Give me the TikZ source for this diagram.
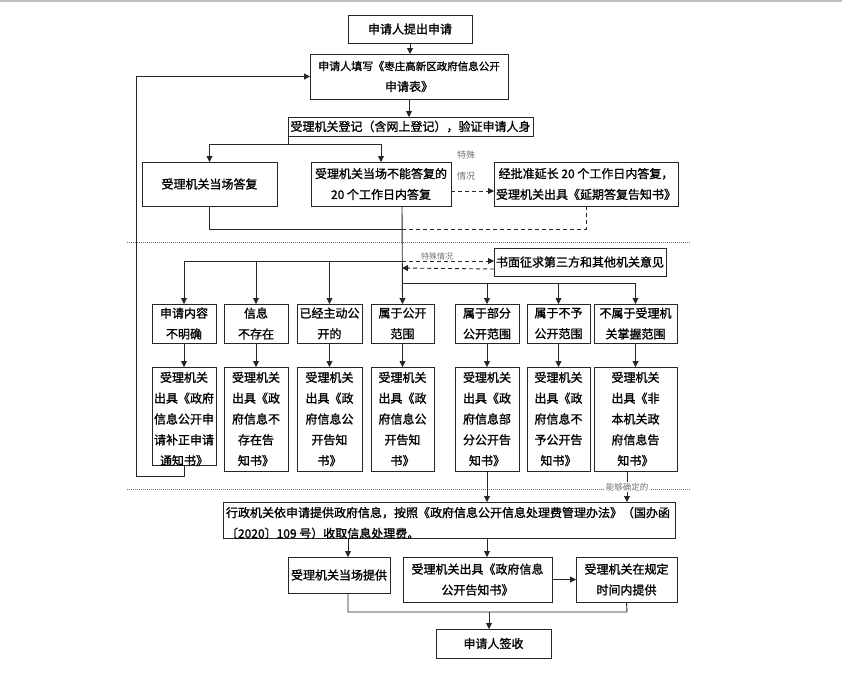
\documentclass[tikz,border=0pt]{standalone}
\usepackage{fontspec}
\newfontfamily\cjk{Noto Sans CJK SC}[AutoFakeBold=1.2]
\usetikzlibrary{arrows.meta}
\tikzset{
 ln/.style={draw=black!85,line width=0.9pt},
 arr/.style={ln,-{Triangle[length=6pt,width=6pt]}},
 dln/.style={ln,dash pattern=on 4pt off 3pt},
 darr/.style={arr,dash pattern=on 4pt off 3pt},
 box/.style={ln,inner sep=0pt,outer sep=0pt,align=center,font=\cjk\bfseries\fontsize{12pt}{20.8pt}\selectfont},
 txt/.style={inner sep=0pt,outer sep=0pt,align=center,font=\cjk\bfseries\fontsize{12pt}{20.8pt}\selectfont},
 note/.style={text=black!55,inner sep=1pt,font=\cjk\fontsize{9pt}{11pt}\selectfont},
 sepline/.style={draw=black!55,line width=0.7pt,dash pattern=on 1pt off 1pt},
}
\newcommand\mkbox[6]{\node[box,minimum width={(#4-#2)*1pt},minimum height={(#5-#3)*1pt}] (#1) at ({(#2+#4)/2},{(#3+#5)/2}) {#6};}
\begin{document}
\begin{tikzpicture}[x=1pt,y=-1pt]
\useasboundingbox (0,0) rectangle (842,689);
\fill[white] (0,0) rectangle (842,689);
\draw[draw=black!25,line width=2pt] (0,1) -- (842,1);
% top part
\mkbox{b1}{348}{15}{472}{43}{申请人提出申请}
\mkbox{b2}{310}{54}{508}{99}{{\fontsize{11pt}{20.8pt}\selectfont 申请人填写《}{\fontsize{10.5pt}{20.8pt}\selectfont 枣庄高新区政府信息公开}\\申请表》}
\mkbox{b3}{288}{117}{533}{136}{受理机关登记（含网上登记），验证申请人身}
\mkbox{b4}{142}{162}{277}{206}{受理机关当场答复}
\mkbox{b5}{311}{162}{451}{206}{受理机关当场不能答复的\\20 个工作日内答复}
\mkbox{b6}{494}{162}{678}{206}{经批准延长 20 个工作日内答复，\\受理机关出具《延期答复告知书》}
\mkbox{b7}{494}{248}{666}{276}{书面征求第三方和其他机关意见}
% categories
\mkbox{c1}{152}{304}{216}{343}{申请内容\\不明确}
\mkbox{c2}{224}{304}{288}{343}{信息\\不存在}
\mkbox{c3}{297}{304}{362}{343}{已经主动公\\开的}
\mkbox{c4}{371}{304}{434}{343}{属于公开\\范围}
\mkbox{c5}{455}{304}{519}{343}{属于部分\\公开范围}
\mkbox{c6}{527}{304}{590}{343}{属于不予\\公开范围}
\mkbox{c7}{594}{304}{677}{343}{不属于受理机\\关掌握范围}
% notices
\mkbox{n1}{152}{367}{216}{465}{}
\node[txt] (tn1) at (184,419) {受理机关\\出具《政府\\信息公开申\\请补正申请\\通知书》};
\mkbox{n2}{224}{367}{288}{471}{受理机关\\出具《政\\府信息不\\存在告\\知书》}
\mkbox{n3}{297}{367}{362}{471}{受理机关\\出具《政\\府信息公\\开告知\\书》}
\mkbox{n4}{371}{367}{434}{471}{受理机关\\出具《政\\府信息公\\开告知\\书》}
\mkbox{n5}{455}{367}{519}{471}{受理机关\\出具《政\\府信息部\\分公开告\\知书》}
\mkbox{n6}{527}{367}{590}{471}{受理机关\\出具《政\\府信息不\\予公开告\\知书》}
\mkbox{n7}{594}{367}{677}{471}{受理机关\\出具《非\\本机关政\\府信息告\\知书》}
% bottom
\mkbox{b8}{223}{502}{675}{538}{}
\node[txt,align=left,anchor=west] (tb8) at (226,523) {行政机关依申请提供政府信息，按照《政府信息公开信息处理费管理办法》（国办函\\〔2020〕109 号）收取信息处理费。};
\mkbox{b9}{288}{557}{390}{593}{受理机关当场提供}
\mkbox{b10}{403}{557}{552}{602}{\fontsize{12pt}{19pt}\selectfont 受理机关出具《政府信息\\公开告知书》}
\mkbox{b11}{576}{557}{677}{602}{\fontsize{12pt}{19pt}\selectfont 受理机关在规定\\时间内提供}
\mkbox{b12}{436}{629}{551}{658}{申请人签收}
% separators
\draw[sepline] (127,242) -- (690,242);
\draw[sepline] (127,489) -- (690,489);
% coordinates
\coordinate (s1) at (288,144);
\coordinate (v0) at (402,206);
\coordinate (j1) at (402,229);
\coordinate (j2) at (402,261);
\coordinate (j3) at (402,283);
\coordinate (L1) at (136,476);
\coordinate (k7) at (627,471);
\coordinate (k9) at (348,593);
\coordinate (k8) at (348,538);
\coordinate (m1) at (348,612);
\coordinate (m2) at (627,612);
\coordinate (m3) at (489,612);
\coordinate (e8) at (487,538);
% connectors top
\draw[arr] (b1.south) -- (b1.south |- b2.north);
\draw[arr] (b2.south) -- (b2.south |- b3.north);
\draw[ln] (b3.south west) -- (s1);
\draw[arr] (s1) -| (b4.north);
\draw[arr] (s1) -| (b5.north);
\draw[darr] ([yshift=-7pt]b5.east) -- ([yshift=-7pt]b6.west);
\node[note] (lab1) at (466,155) {特殊};
\node[note] (lab2) at (466,176) {情况};
\draw[ln] (b4.south) |- (j1);
\draw[dln] (b6.south) |- (j1);
\draw[arr] (v0) -- (c4.north);
\draw[darr] (j2) -- (j2 -| b7.west);
\draw[darr] ([yshift=-7pt]b7.west) -- ([yshift=-7pt]j2);
\node[note,font=\cjk\fontsize{8pt}{10pt}\selectfont] (lab3) at (437,256) {特殊情况};
\draw[arr] (j2) -| (c1.north);
\draw[arr] (j2) -| (c2.north);
\draw[arr] (j2) -| (c3.north);
\draw[arr] (j3) -| (c5.north);
\draw[arr] (j3) -| (c6.north);
\draw[arr] (j3) -| (c7.north);
% categories to notices
\foreach \i in {1,...,7} {\draw[arr] (c\i.south) -- (n\i.north);}
% loop back
\draw[arr] (n1.south) |- (L1) |- (b2.west);
% to b8
\draw[arr] (n5.south) -- (n5.south |- b8.north);
\draw[arr] (k7) -- (k7 |- b8.north);
\node[note,fill=white,inner xsep=2pt,font=\cjk\fontsize{8.5pt}{10pt}\selectfont] (lab4) at (627,487) {能够确定的};
\draw[arr] (k8) -- (k8 |- b9.north);
\draw[arr] (e8) -- (e8 |- b10.north);
\draw[arr] (b10.east) -- (b11.west);
\draw[ln] (k9) |- (m2) -- (b11.south);
\draw[arr] (m3) -- (m3 |- b12.north);
\end{tikzpicture}
\end{document}
